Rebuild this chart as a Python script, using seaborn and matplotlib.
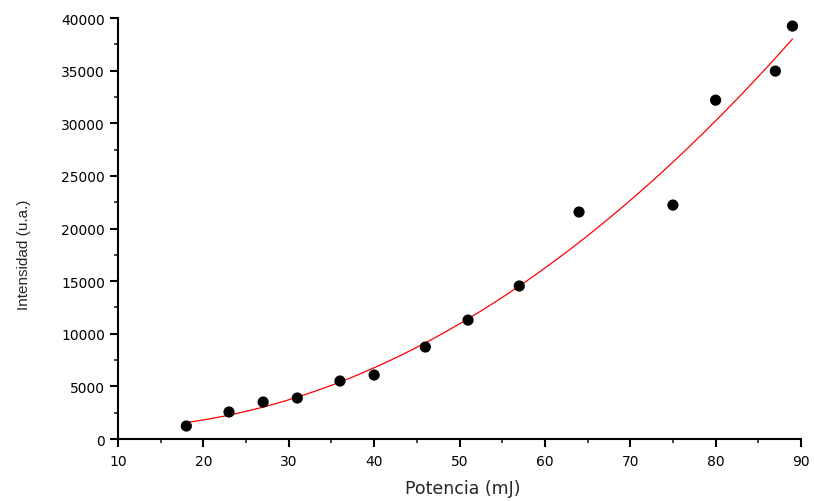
import matplotlib
matplotlib.use("Agg")
import matplotlib.pyplot as plt
import seaborn as sns
import pandas as pd
from matplotlib.ticker import MultipleLocator

potencia = [18, 23, 27, 31, 36, 40, 46, 51, 57, 64, 75, 80, 87, 89]
intensidad = [1235, 2565, 3515, 3895, 5510, 6080, 8740, 11300, 14540, 21570, 22230, 32200, 34960, 39240]
xticks = [10, 20, 30, 40, 50, 60, 70, 80, 90]
yticks = [0, 5000, 10000, 15000, 20000, 25000, 30000, 35000, 40000]

df = pd.DataFrame({"Potencia": potencia, "Intensidad": intensidad})

sns.set_style("ticks")
plt.rcParams["font.family"] = ["DejaVu Sans"]

fig = plt.figure(figsize=(8.14, 5.02), dpi=100)
ax = fig.add_axes([0.145, 0.1235, 0.839, 0.8385])

sns.regplot(data=df, x="Potencia", y="Intensidad", order=2, ci=None, ax=ax,
            scatter_kws=dict(color="black", s=65, edgecolor="none", alpha=1, zorder=3),
            line_kws=dict(color="red", lw=0.9, zorder=2))

ax.set_xlim(10, 90)
ax.set_ylim(0, 40000)
ax.set_xticks(xticks)
ax.set_yticks(yticks)
ax.xaxis.set_minor_locator(MultipleLocator(5))
ax.yaxis.set_minor_locator(MultipleLocator(2500))
ax.tick_params(which="major", direction="out", length=5.5, width=1.5, labelsize=10, colors="black")
ax.tick_params(which="minor", direction="out", length=3, width=1.2)
ax.tick_params(axis="x", which="major", pad=5)
ax.tick_params(axis="y", which="major", pad=4)
for s in ["top", "right"]:
    ax.spines[s].set_visible(False)
for s in ["left", "bottom"]:
    ax.spines[s].set_linewidth(1.5)
    ax.spines[s].set_color("black")

ax.set_xlabel("Potencia (mJ)", fontsize=12.5, va="center")
ax.xaxis.set_label_coords((463 - 118) / 683, (440 - 489) / 421)
ax.set_ylabel("Intensidad (u.a.)", fontsize=11, va="center",
              family=["Liberation Sans", "DejaVu Sans"])
ax.yaxis.set_label_coords((24 - 118) / 683, (440 - 255) / 421)

fig.savefig("out.png", dpi=100)
